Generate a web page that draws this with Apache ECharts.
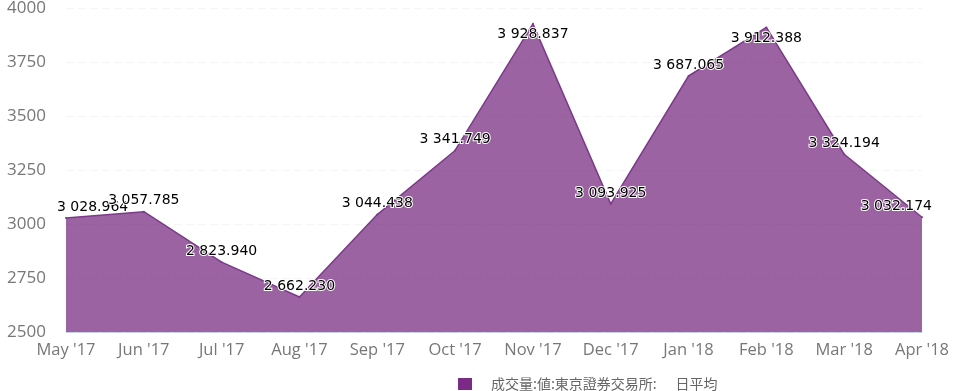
<!DOCTYPE html>
<html><head><meta charset="utf-8">
<script src="https://cdn.jsdelivr.net/npm/echarts@6/dist/echarts.min.js"></script>
<style>html,body{margin:0;padding:0;background:#fff}#c{width:954px;height:391px}</style>
</head><body><div id="c"></div>
<script>
const categories = ["May '17","Jun '17","Jul '17","Aug '17","Sep '17","Oct '17","Nov '17","Dec '17","Jan '18","Feb '18","Mar '18","Apr '18"];
const values = [3028.964,3057.785,2823.940,2662.230,3044.438,3341.749,3928.837,3093.925,3687.065,3912.388,3324.194,3032.174];
const yTicks = [2500,2750,3000,3250,3500,3750,4000];
const seriesName = "成交量:値:東京證券交易所:      日平均";

function fmt(v){
  const s = v.toFixed(3);
  const [i,d] = s.split('.');
  return i.replace(/\B(?=(\d{3})+(?!\d))/g,' ') + '.' + d;
}
const yMin = yTicks[0], yMax = yTicks[yTicks.length-1];
const plotTop = 8, plotBottom = 59, H = 391;
const plotH = H - plotTop - plotBottom;
// labels that would overflow above the plot are pushed inside (below the point);
// first/last labels are justified to stay inside the plot
const data = values.map((v,i)=>{
  const px = (yMax - v)/(yMax - yMin)*plotH;
  const lab = {};
  if (px < 22) lab.position = 'bottom';
  if (i === 0) { lab.position = [-8,-3]; lab.align = 'left'; lab.verticalAlign = 'bottom'; }
  if (i === values.length-1) { lab.position = [11,-3]; lab.align = 'right'; lab.verticalAlign = 'bottom'; }
  return {value:v, label:lab};
});
const chart = echarts.init(document.getElementById('c'));
chart.setOption({
  animation:false,
  grid:{left:66,right:32,top:plotTop,bottom:plotBottom},
  legend:{top:372,left:453,itemWidth:14,itemHeight:12,icon:'rect',itemGap:10,
    itemStyle:{color:'#7b2b86',opacity:1},
    textStyle:{color:'#666',fontSize:14,fontFamily:'Noto Sans CJK JP',padding:[0,0,0,14]},data:[seriesName]},
  xAxis:{type:'category',data:categories,boundaryGap:false,
    axisLine:{show:true,lineStyle:{color:'#ccd6eb'}},axisTick:{show:false},
    axisLabel:{color:'#777',fontSize:16.5,fontFamily:'Open Sans',margin:10,interval:0}},
  yAxis:{type:'value',min:yMin,max:yMax,interval:250,z:3,
    axisLine:{show:false},axisTick:{show:false},
    axisLabel:{color:'#777',fontSize:17,fontFamily:'Open Sans',margin:20,formatter:v=>String(v)},
    splitLine:{show:true,lineStyle:{color:'rgba(90,30,100,0.05)',type:[8,4],width:1}}},
  series:[{name:seriesName,type:'line',data:data,symbol:'circle',symbolSize:2,showSymbol:true,
    itemStyle:{color:'#7d3a8a'},
    lineStyle:{color:'#7d3a8a',width:1.5},
    areaStyle:{color:'#9b63a1',opacity:1},
    z:2,
    labelLayout:{hideOverlap:false},
    label:{show:true,position:'top',distance:3,formatter:p=>fmt(p.value),
      color:'#000',fontSize:14,fontFamily:'DejaVu Sans',textBorderColor:'#fff',textBorderWidth:2}}]
});
</script></body></html>
